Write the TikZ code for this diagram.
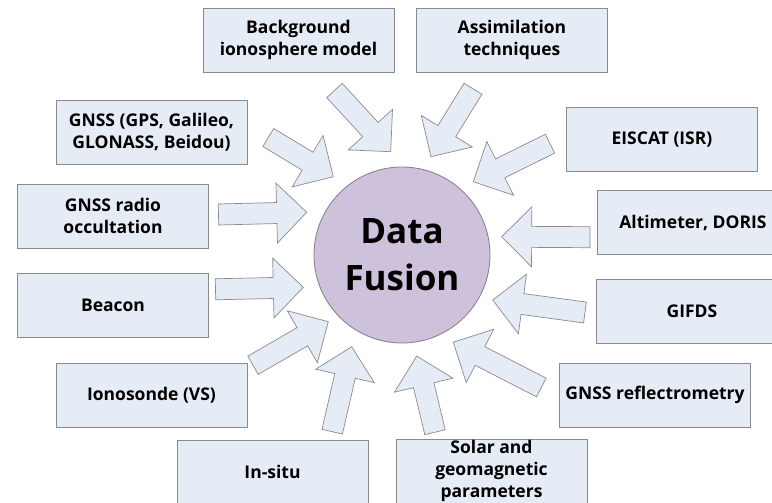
\documentclass[tikz,border=0pt]{standalone}
\usepackage{fontspec}
\setmainfont{Open Sans}
\usetikzlibrary{calc}

\definecolor{boxfill}{RGB}{230,236,246}
\definecolor{boxline}{RGB}{138,138,138}
\definecolor{hubfill}{RGB}{206,193,219}
\definecolor{hubline}{RGB}{130,124,136}

\tikzset{
  srcbox/.style={draw=boxline, fill=boxfill, line width=0.8pt,
    minimum width=191pt, minimum height=64pt, inner sep=0pt,
    align=center, font=\bfseries\fontsize{17.5}{22}\selectfont},
  hub/.style={circle, draw=hubline, fill=hubfill, line width=0.8pt,
    minimum size=176pt, inner sep=0pt, align=center,
    font=\bfseries\fontsize{35}{47}\selectfont},
  blockarrow/.style={draw=boxline, fill=boxfill, line width=0.7pt, line join=miter},
}

% Block arrow from a tail coordinate to a tip coordinate
% (shaft half-width 10.5, head half-width 30, head length 30)
\newcommand\inflow[2]{%
  \path ($(#2)!30pt!(#1)$) coordinate (hb);
  \draw[blockarrow]
    ($(#1)!10.5pt!90:(#2)$) --
    ($(hb)!10.5pt!90:(#2)$) --
    ($(hb)!30pt!90:(#2)$) --
    (#2) --
    ($(hb)!30pt!-90:(#2)$) --
    ($(hb)!10.5pt!-90:(#2)$) --
    ($(#1)!10.5pt!-90:(#2)$) -- cycle;
}

\begin{document}
\begin{tikzpicture}[x=1pt, y=-1pt]
  \useasboundingbox (0,0) rectangle (772,503);
  \clip (0,0) rectangle (772,503);

  % central hub
  \node[hub] (fusion) at (402,255) {Data\\Fusion};

  % data sources
  \node[srcbox] (bg)     at (298.5,40)  {Background\\ionosphere model};
  \node[srcbox] (assim)  at (512,40)    {Assimilation\\techniques};
  \node[srcbox] (gnss)   at (151.5,132.5) {GNSS (GPS, Galileo,\\GLONASS, Beidou)};
  \node[srcbox] (ro)     at (113,216)   {GNSS radio\\occultation};
  \node[srcbox] (eiscat) at (662,139.5) {EISCAT (ISR)};
  \node[srcbox] (alt)    at (693,222.5) {Altimeter, DORIS};
  \node[srcbox] (beacon) at (113,305)   {Beacon};
  \node[srcbox] (gifds)  at (692,311.5) {GIFDS};
  \node[srcbox] (iono)   at (151.5,395) {Ionosonde (VS)};
  \node[srcbox] (refl)   at (655,395)   {GNSS reflectrometry};
  \node[srcbox] (insitu) at (272.5,472) {In-situ};
  \node[srcbox] (solar)  at (491.5,471) {Solar and\\geomagnetic\\parameters};

  % arrow tails and tips
  \coordinate (bg-t)     at (334.5,90.5);  \coordinate (bg-h)     at (390.7,151.7);
  \coordinate (assim-t)  at (473,88.8);    \coordinate (assim-h)  at (431,156.7);
  \coordinate (gnss-t)   at (268.3,137.5); \coordinate (gnss-h)   at (333.3,176.7);
  \coordinate (ro-t)     at (218.5,214.5); \coordinate (ro-h)     at (306.7,212.3);
  \coordinate (eiscat-t) at (550,143.7);   \coordinate (eiscat-h) at (473.3,181.7);
  \coordinate (alt-t)    at (590,237.2);   \coordinate (alt-h)    at (501.7,236.7);
  \coordinate (beacon-t) at (215.5,289.3); \coordinate (beacon-h) at (303.3,287.3);
  \coordinate (gifds-t)  at (585,312.5);   \coordinate (gifds-h)  at (492.7,300);
  \coordinate (iono-t)   at (253,365.3);   \coordinate (iono-h)   at (328.3,321.7);
  \coordinate (refl-t)   at (541.3,387.5); \coordinate (refl-h)   at (453.3,342.2);
  \coordinate (insitu-t) at (332.2,431.7); \coordinate (insitu-h) at (351.7,346.7);
  \coordinate (solar-t)  at (435,432.2);   \coordinate (solar-h)  at (416.7,356);

  \foreach \s in {bg,assim,gnss,ro,eiscat,alt,beacon,gifds,iono,refl,insitu,solar}
    {\inflow{\s-t}{\s-h}}
\end{tikzpicture}
\end{document}
